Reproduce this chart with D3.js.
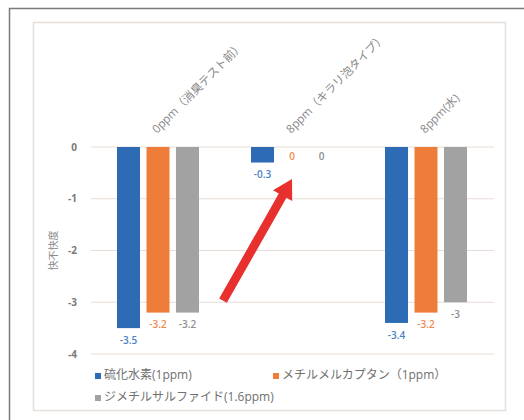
<!DOCTYPE html>
<html><head><meta charset="utf-8">
<script src="https://cdn.jsdelivr.net/npm/d3@7"></script>
<style>
html,body{margin:0;padding:0;background:#fff;}
svg{display:block;}
text{font-family:"Open Sans","Noto Sans CJK JP",sans-serif;}
</style></head>
<body>
<svg id="c" width="524" height="420"></svg>
<script>
const categories = ["0ppm（消臭テスト前）", "8ppm（キラリ泡タイプ）", "8ppm(水)"];
const seriesNames = ["硫化水素(1ppm)", "メチルメルカプタン（1ppm）", "ジメチルサルファイド(1.6ppm)"];
const h2s = [-3.5, -0.3, -3.4];
const methylMercaptan = [-3.2, 0, -3.2];
const dimethylSulfide = [-3.2, 0, -3];
const yTicks = [0, -1, -2, -3, -4];
const yTitle = "快不快度";
const colors = ["#2d6cb5", "#ef7d3a", "#a2a2a2"];
const labelColors = ["#4a82c4", "#f08a50", "#8f8f8f"];

const series = [h2s, methylMercaptan, dimethylSulfide];
const svg = d3.select("#c");

// outer frame (left & top visible)
svg.append("path").attr("d","M9.5,420 V8.5 H524").attr("fill","none").attr("stroke","#7a7a7a").attr("stroke-width",1.5);
// chart area border
svg.append("rect").attr("x",33.5).attr("y",22.5).attr("width",472).attr("height",388)
  .attr("fill","#fff").attr("stroke","#e6e0dc").attr("stroke-width",1.5);

const x0 = d3.scaleBand().domain(categories).range([91, 493]).paddingInner(0).paddingOuter(0);
const innerW = 82;
const x1 = d3.scaleBand().domain(d3.range(3)).range([0, innerW]).paddingInner(0.22).paddingOuter(0);
const groupInset = (x0.bandwidth() - innerW) / 2;
const y = d3.scaleLinear().domain([-4, 0]).range([354, 147]);

// gridlines
svg.append("g").selectAll("line").data(yTicks).join("line")
  .attr("x1", 91).attr("x2", 494)
  .attr("y1", d => y(d)).attr("y2", d => y(d))
  .attr("stroke", "#e8ddd6").attr("stroke-width", 1.2);

// y axis labels
const yAxis = d3.axisLeft(y).tickValues(yTicks).tickSize(0).tickPadding(0).tickFormat(d => String(d));
const ga = svg.append("g").attr("transform","translate(77,0)").call(yAxis);
ga.select(".domain").remove();
ga.selectAll("text").attr("fill","#7a7a7a").attr("font-size",10).attr("font-weight","bold")
  .attr("font-family","Open Sans");

// y title
svg.append("text").attr("transform", `translate(54,${y(-2)}) rotate(-90)`)
  .attr("text-anchor","middle").attr("dominant-baseline","middle")
  .attr("font-family","Noto Sans CJK JP").attr("font-size",10).attr("fill","#8a8a8a").text(yTitle);

// bars
const groups = svg.append("g").selectAll("g").data(categories).join("g")
  .attr("transform", d => `translate(${x0(d) + groupInset},0)`);
groups.each(function(cat, ci) {
  const g = d3.select(this);
  series.forEach((s, si) => {
    const v = s[ci];
    const bx = x1(si), bw = x1.bandwidth();
    if (v !== 0) {
      g.append("rect").attr("x", bx).attr("width", bw)
        .attr("y", y(0)).attr("height", y(v) - y(0)).attr("fill", colors[si]);
    }
    g.append("text").attr("x", bx + bw / 2).attr("y", y(v) + (v === 0 ? 10 : 13))
      .attr("text-anchor","middle").attr("dominant-baseline","middle")
      .attr("font-size", 10).attr("font-weight","600").attr("fill", labelColors[si])
      .text(v);
  });
});

// category labels (rotated)
svg.append("g").selectAll("text").data(categories).join("text")
  .attr("transform", d => `translate(${x0(d) + x0.bandwidth()/2 - 1},134) rotate(-45)`)
  .attr("font-family","Noto Sans CJK JP")
  .attr("font-size", 11.5).attr("fill","#878787")
  .text(d => d);

// legend
const legendItems = [
  {i:0, x:95, y:376}, {i:1, x:273, y:376}, {i:2, x:95, y:398}
];
const lg = svg.append("g").selectAll("g").data(legendItems).join("g")
  .attr("transform", d => `translate(${d.x},${d.y})`);
lg.append("rect").attr("x",0).attr("y",-3).attr("width",6).attr("height",6).attr("fill", d => colors[d.i]);
lg.append("text").attr("x",9).attr("y",0).attr("dominant-baseline","middle")
  .attr("font-family","Noto Sans CJK JP")
  .attr("font-size",12).attr("fill","#707070").text(d => seriesNames[d.i]);

// red annotation arrow (in data coordinates)
const ax0 = x0(categories[1]) - 2, ay0 = y(-2.97);
const ax1 = x0(categories[1]) + groupInset + x1(1) + x1.bandwidth()/2, ay1 = y(-0.62);
const ang = Math.atan2(ay1 - ay0, ax1 - ax0);
const headLen = 19, headW = 11, shaftW = 4.4;
const ux = Math.cos(ang), uy = Math.sin(ang), px = -uy, py = ux;
const bxh = ax1 - ux*headLen, byh = ay1 - uy*headLen;
const pts = [
  [ax0 + px*shaftW, ay0 + py*shaftW],
  [bxh + px*shaftW, byh + py*shaftW],
  [bxh + px*headW, byh + py*headW],
  [ax1, ay1],
  [bxh - px*headW, byh - py*headW],
  [bxh - px*shaftW, byh - py*shaftW],
  [ax0 - px*shaftW, ay0 - py*shaftW]
];
svg.append("path").attr("d", d3.line()(pts) + "Z").attr("fill","#e8312e");
</script>
</body></html>
